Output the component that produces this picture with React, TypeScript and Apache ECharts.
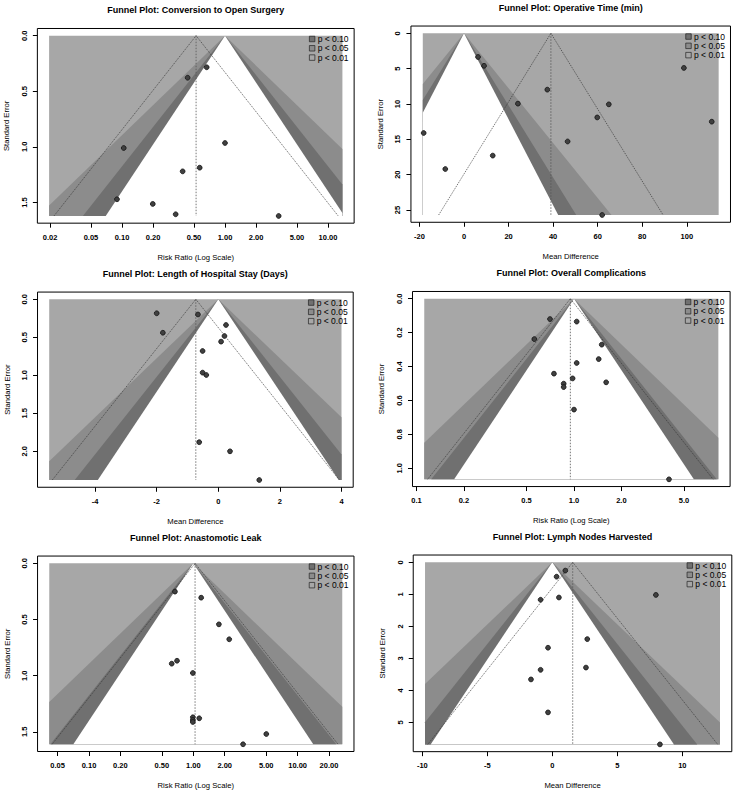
import React, { useEffect, useRef } from 'react';
import * as echarts from 'echarts';

// ---------- DATA ----------
// Panel 1: Conversion to Open Surgery (risk ratio)
const convTitle = 'Funnel Plot: Conversion to Open Surgery';
const convXName = 'Risk Ratio (Log Scale)';
const convRR = [0.664, 0.434, 0.104, 1.0, 0.568, 0.388, 0.0894, 0.199, 0.332, 3.32];
const convSE = [0.284, 0.378, 1.01, 0.965, 1.187, 1.22, 1.471, 1.513, 1.606, 1.621];
const convPooled = 0.524;
const convXLim = [0.0196, 13.8];
const convXTicks = [0.02, 0.05, 0.1, 0.2, 0.5, 1, 2, 5, 10];
const convXTickLabels = ['0.02', '0.05', '0.10', '0.20', '0.50', '1.00', '2.00', '5.00', '10.00'];
const convYTicks = [0, 0.5, 1.0, 1.5];
const convYTickLabels = ['0.0', '0.5', '1.0', '1.5'];

// Panel 2: Operative Time (mean difference)
const opTitle = 'Funnel Plot: Operative Time (min)';
const opXName = 'Mean Difference';
const opMD = [6.3, 9.0, 37.4, 24.2, -18.1, 12.9, -8.4, 46.5, 59.8, 65.0, 98.7, 111.2, 62.0];
const opSE = [3.35, 4.6, 7.97, 9.95, 14.1, 17.3, 19.2, 15.3, 11.9, 10.05, 4.9, 12.5, 25.7];
const opPooled = 39.0;
const opXLim = [-18.5, 114.3];
const opXTicks = [-20, 0, 20, 40, 60, 80, 100];
const opXTickLabels = ['-20', '0', '20', '40', '60', '80', '100'];
const opYTicks = [0, 5, 10, 15, 20, 25];
const opYTickLabels = ['0', '5', '10', '15', '20', '25'];

// Panel 3: Length of Hospital Stay (mean difference)
const losTitle = 'Funnel Plot: Length of Hospital Stay (Days)';
const losXName = 'Mean Difference';
const losMD = [-2.0, -0.66, -1.8, 0.25, 0.2, 0.09, -0.51, -0.51, -0.39, -0.62, 0.38, 1.33];
const losSE = [0.184, 0.2, 0.44, 0.338, 0.483, 0.557, 0.68, 0.965, 0.996, 1.88, 2.0, 2.378];
const losPooled = -0.73;
const losXLim = [-5.49, 4.0];
const losXTicks = [-4, -2, 0, 2, 4];
const losXTickLabels = ['-4', '-2', '0', '2', '4'];
const losYTicks = [0, 0.5, 1.0, 1.5, 2.0];
const losYTickLabels = ['0.0', '0.5', '1.0', '1.5', '2.0'];

// Panel 4: Overall Complications (risk ratio)
const compTitle = 'Funnel Plot: Overall Complications';
const compXName = 'Risk Ratio (Log Scale)';
const compRR = [0.704, 1.04, 0.56, 1.5, 1.435, 1.04, 0.746, 0.98, 1.6, 0.86, 0.86, 1.0, 4.01];
const compSE = [0.12, 0.135, 0.238, 0.271, 0.356, 0.379, 0.442, 0.47, 0.493, 0.501, 0.521, 0.654, 1.065];
const compPooled = 0.948;
const compXLim = [0.112, 8.25];
const compXTicks = [0.1, 0.2, 0.5, 1, 2, 5];
const compXTickLabels = ['0.1', '0.2', '0.5', '1.0', '2.0', '5.0'];
const compYTicks = [0, 0.2, 0.4, 0.6, 0.8, 1.0];
const compYTickLabels = ['0.0', '0.2', '0.4', '0.6', '0.8', '1.0'];

// Panel 5: Anastomotic Leak (risk ratio)
const leakTitle = 'Funnel Plot: Anastomotic Leak';
const leakXName = 'Risk Ratio (Log Scale)';
const leakRR = [0.667, 1.19, 1.76, 2.21, 0.698, 0.621, 0.99, 0.99, 0.99, 0.99, 1.14, 5.01, 3.0];
const leakSE = [0.252, 0.306, 0.543, 0.676, 0.867, 0.893, 0.976, 1.37, 1.394, 1.412, 1.379, 1.519, 1.61];
const leakPooled = 1.04;
const leakXLim = [0.0416, 26.8];
const leakXTicks = [0.05, 0.1, 0.2, 0.5, 1, 2, 5, 10, 20];
const leakXTickLabels = ['0.05', '0.10', '0.20', '0.50', '1.00', '2.00', '5.00', '10.00', '20.00'];
const leakYTicks = [0, 0.5, 1.0, 1.5];
const leakYTickLabels = ['0.0', '0.5', '1.0', '1.5'];

// Panel 6: Lymph Nodes Harvested (mean difference)
const lymphTitle = 'Funnel Plot: Lymph Nodes Harvested';
const lymphXName = 'Mean Difference';
const lymphMD = [1.0, 0.33, -0.9, 0.51, 7.97, 2.69, -0.33, 2.59, -0.9, -1.64, -0.33, 8.28];
const lymphSE = [0.26, 0.45, 1.17, 1.1, 1.02, 2.4, 2.67, 3.29, 3.36, 3.66, 4.69, 5.69];
const lymphPooled = 1.57;
const lymphXLim = [-9.79, 12.9];
const lymphXTicks = [-10, -5, 0, 5, 10];
const lymphXTickLabels = ['-10', '-5', '0', '5', '10'];
const lymphYTicks = [0, 1, 2, 3, 4, 5];
const lymphYTickLabels = ['0', '1', '2', '3', '4', '5'];

const legendLabels = ['p < 0.10', 'p < 0.05', 'p < 0.01'];
const contourZ = [1.645, 1.96, 2.576];
const yName = 'Standard Error';

// ---------- LAYOUT (pixel calibration of each panel) ----------
const LAYOUT = [
  { xPx0: 225, xScale: 103, yPx0: 35.7, yScale: 111.2 },
  { xPx0: 464, xScale: 2.228, yPx0: 33.3, yScale: 7.07 },
  { xPx0: 218.3, xScale: 30.8, yPx0: 299.3, yScale: 76 },
  { xPx0: 574, xScale: 157.5, yPx0: 298.7, yScale: 169.6 },
  { xPx0: 193.3, xScale: 104.3, yPx0: 563.3, yScale: 112.4 },
  { xPx0: 552.3, xScale: 13, yPx0: 562.3, yScale: 32 },
];

const FONT = '"Liberation Sans", Arial, Helvetica, sans-serif';
const C_LIGHT = '#a7a7a7';
const C_MED = '#8c8c8c';
const C_DARK = '#707070';
const LEGEND_COLORS = [C_DARK, C_MED, C_LIGHT];

type Panel = {
  title: string; xName: string; log: boolean; x: number[]; se: number[]; pooled: number;
  xLim: number[]; xTicks: number[]; xTickLabels: string[]; yTicks: number[]; yTickLabels: string[];
};

const PANELS: Panel[] = [
  { title: convTitle, xName: convXName, log: true, x: convRR, se: convSE, pooled: convPooled, xLim: convXLim, xTicks: convXTicks, xTickLabels: convXTickLabels, yTicks: convYTicks, yTickLabels: convYTickLabels },
  { title: opTitle, xName: opXName, log: false, x: opMD, se: opSE, pooled: opPooled, xLim: opXLim, xTicks: opXTicks, xTickLabels: opXTickLabels, yTicks: opYTicks, yTickLabels: opYTickLabels },
  { title: losTitle, xName: losXName, log: false, x: losMD, se: losSE, pooled: losPooled, xLim: losXLim, xTicks: losXTicks, xTickLabels: losXTickLabels, yTicks: losYTicks, yTickLabels: losYTickLabels },
  { title: compTitle, xName: compXName, log: true, x: compRR, se: compSE, pooled: compPooled, xLim: compXLim, xTicks: compXTicks, xTickLabels: compXTickLabels, yTicks: compYTicks, yTickLabels: compYTickLabels },
  { title: leakTitle, xName: leakXName, log: true, x: leakRR, se: leakSE, pooled: leakPooled, xLim: leakXLim, xTicks: leakXTicks, xTickLabels: leakXTickLabels, yTicks: leakYTicks, yTickLabels: leakYTickLabels },
  { title: lymphTitle, xName: lymphXName, log: false, x: lymphMD, se: lymphSE, pooled: lymphPooled, xLim: lymphXLim, xTicks: lymphXTicks, xTickLabels: lymphXTickLabels, yTicks: lymphYTicks, yTickLabels: lymphYTickLabels },
];

function inter(a: number[], b: number[], xb: number) {
  const t = (xb - a[0]) / (b[0] - a[0]);
  return [xb, a[1] + t * (b[1] - a[1])];
}
function clipHalf(pts: number[][], keep: (p: number[]) => boolean, xb: number) {
  const out: number[][] = [];
  for (let i = 0; i < pts.length; i++) {
    const cur = pts[i];
    const prev = pts[(i + pts.length - 1) % pts.length];
    const ci = keep(cur);
    const pi = keep(prev);
    if (ci) {
      if (!pi) out.push(inter(prev, cur, xb));
      out.push(cur);
    } else if (pi) {
      out.push(inter(prev, cur, xb));
    }
  }
  return out;
}
function clipX(pts: number[][], x0: number, x1: number) {
  let r = clipHalf(pts, (p) => p[0] >= x0 - 1e-12, x0);
  r = clipHalf(r, (p) => p[0] <= x1 + 1e-12, x1);
  return r;
}

function labelFor(ticks: number[], labels: string[], tx: (v: number) => number) {
  return (v: number) => {
    let best = 0;
    let bd = Infinity;
    ticks.forEach((t, i) => {
      const d = Math.abs(tx(t) - v);
      if (d < bd) { bd = d; best = i; }
    });
    return labels[best];
  };
}

function buildOption() {
  const grids: any[] = [];
  const xAxes: any[] = [];
  const yAxes: any[] = [];
  const series: any[] = [];
  const graphics: any[] = [];

  PANELS.forEach((p, i) => {
    const L = LAYOUT[i];
    const tx = (v: number) => (p.log ? Math.log10(v) : v);
    const k = p.log ? 1 / Math.LN10 : 1;
    const xl0 = tx(p.xLim[0]);
    const xl1 = tx(p.xLim[1]);
    const seMax = Math.max(...p.se);
    const xr = xl1 - xl0;
    const xMin = xl0 - 0.04 * xr;
    const xMax = xl1 + 0.04 * xr;
    const yMin = -0.04 * seMax;
    const yMax = 1.04 * seMax;
    const boxL = L.xPx0 + L.xScale * xMin;
    const boxR = L.xPx0 + L.xScale * xMax;
    const boxT = L.yPx0 + L.yScale * yMin;
    const boxB = L.yPx0 + L.yScale * yMax;

    grids.push({
      left: boxL, top: boxT, width: boxR - boxL, height: boxB - boxT,
      show: true, borderColor: '#000', borderWidth: 1, backgroundColor: 'transparent',
      containLabel: false,
    });

    const xt = p.xTicks.map(tx);
    xAxes.push({
      type: 'value', gridIndex: i, min: xMin, max: xMax, position: 'bottom',
      axisLine: { show: false, onZero: false }, splitLine: { show: false },
      axisTick: { show: true, inside: false, length: 4.5, customValues: xt, lineStyle: { color: '#000', width: 1 } },
      axisLabel: {
        customValues: xt, formatter: labelFor(p.xTicks, p.xTickLabels, tx),
        fontSize: 7.5, color: '#000', fontFamily: FONT, margin: 10, fontWeight: 'bold',
      },
      name: p.xName, nameLocation: 'middle', nameGap: 30,
      nameTextStyle: { fontSize: 7.7, color: '#000', fontFamily: FONT },
    });
    yAxes.push({
      type: 'value', gridIndex: i, min: yMin, max: yMax, inverse: true, position: 'left',
      axisLine: { show: false, onZero: false }, splitLine: { show: false },
      axisTick: { show: true, inside: false, length: 4.5, customValues: p.yTicks, lineStyle: { color: '#000', width: 1 } },
      axisLabel: {
        customValues: p.yTicks, formatter: labelFor(p.yTicks, p.yTickLabels, (v) => v),
        rotate: 90, fontSize: 7.5, color: '#000', fontFamily: FONT, margin: 9, fontWeight: 'bold',
      },
      name: yName, nameLocation: 'middle', nameGap: 26.5,
      nameTextStyle: { fontSize: 7.7, color: '#000', fontFamily: FONT },
    });

    const pooledX = tx(p.pooled);
    series.push({
      type: 'custom', xAxisIndex: i, yAxisIndex: i, silent: true, z: 1,
      data: [[pooledX, 0]],
      renderItem: (params: any, api: any) => {
        const cs = params.coordSys;
        const P = (pt: number[]) => api.coord(pt);
        const children: any[] = [];
        const rect = [[xl0, 0], [xl1, 0], [xl1, seMax], [xl0, seMax]];
        children.push({ type: 'polygon', shape: { points: rect.map(P) }, style: { fill: C_LIGHT } });
        const fills = [C_MED, C_DARK, '#ffffff'];
        [contourZ[2], contourZ[1], contourZ[0]].forEach((z, j) => {
          const tri = [[0, 0], [z * seMax * k, seMax], [-z * seMax * k, seMax]];
          const cl = clipX(tri, xl0, xl1);
          if (cl.length >= 3) {
            children.push({ type: 'polygon', shape: { points: cl.map(P) }, style: { fill: fills[j] } });
          }
        });
        const top = P([pooledX, 0]);
        const bot = P([pooledX, seMax]);
        children.push({
          type: 'line', shape: { x1: top[0], y1: top[1], x2: bot[0], y2: bot[1] },
          style: { stroke: '#555', lineWidth: 0.8, lineDash: [1.5, 1.5] },
        });
        const ciL = P([pooledX - 1.96 * seMax * k, seMax]);
        const ciR = P([pooledX + 1.96 * seMax * k, seMax]);
        children.push({
          type: 'polyline', shape: { points: [ciL, top, ciR] },
          style: { stroke: '#333', lineWidth: 0.7, fill: 'none', lineDash: [1.2, 1] },
        });
        const lx = cs.x + cs.width - 42;
        const ly = cs.y + 10.5;
        legendLabels.forEach((lab, j) => {
          children.push({
            type: 'rect', shape: { x: lx - 2.75, y: ly + j * 9.3 - 2.75, width: 5.5, height: 5.5 },
            style: { fill: LEGEND_COLORS[j], stroke: '#222', lineWidth: 0.7 },
          });
          children.push({
            type: 'text', x: lx + 5.5, y: ly + j * 9.3,
            style: { text: lab, fontSize: 8.5, fontFamily: FONT, fill: '#000', align: 'left', verticalAlign: 'middle' },
          });
        });
        return { type: 'group', children };
      },
    });
    series.push({
      type: 'scatter', xAxisIndex: i, yAxisIndex: i, z: 3,
      symbolSize: 4.8,
      itemStyle: { color: '#404040', borderColor: '#111', borderWidth: 0.8, opacity: 1 },
      data: p.x.map((v, j) => [tx(v), p.se[j]]),
    });

    graphics.push({
      type: 'text', x: (boxL + boxR) / 2, y: boxT - 18,
      style: { text: p.title, fontSize: 9, fontWeight: 'bold', fontFamily: FONT, fill: '#000', align: 'center', verticalAlign: 'middle' },
    });
  });

  return {
    animation: false,
    backgroundColor: '#ffffff',
    grid: grids,
    xAxis: xAxes,
    yAxis: yAxes,
    series,
    graphic: graphics,
  };
}

export default function App() {
  const ref = useRef<HTMLDivElement>(null);
  useEffect(() => {
    if (!ref.current) return;
    const chart = echarts.init(ref.current, undefined, { renderer: 'svg' });
    chart.setOption(buildOption() as any);
    return () => chart.dispose();
  }, []);
  return <div ref={ref} style={{ position: 'fixed', left: 0, top: 0, width: 750, height: 800, background: '#fff' }} />;
}
